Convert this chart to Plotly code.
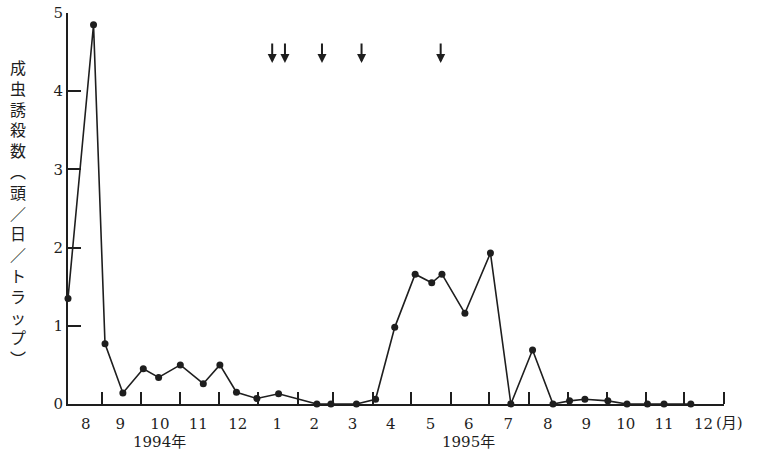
import plotly.graph_objects as go

# --- data ---
dates = ["1994-08-05", "1994-08-25", "1994-09-03", "1994-09-17", "1994-10-03",
         "1994-10-15", "1994-11-01", "1994-11-19", "1994-12-02", "1994-12-15",
         "1994-12-31", "1995-01-17", "1995-02-16", "1995-02-27", "1995-03-19",
         "1995-04-03", "1995-04-18", "1995-05-04", "1995-05-17", "1995-05-25",
         "1995-06-12", "1995-07-02", "1995-07-18", "1995-08-04", "1995-08-20",
         "1995-09-02", "1995-09-14", "1995-10-02", "1995-10-17", "1995-11-02",
         "1995-11-15", "1995-12-06"]
values = [1.35, 4.85, 0.77, 0.14, 0.45, 0.34, 0.50, 0.26, 0.50, 0.15,
          0.07, 0.13, 0.0, 0.0, 0.0, 0.06, 0.98, 1.66, 1.55, 1.66,
          1.16, 1.93, 0.0, 0.69, 0.0, 0.04, 0.06, 0.04, 0.0, 0.0,
          0.0, 0.0]

month_starts = ["1994-09-01", "1994-10-01", "1994-11-01", "1994-12-01",
                "1995-01-01", "1995-02-01", "1995-03-01", "1995-04-01",
                "1995-05-01", "1995-06-01", "1995-07-01", "1995-08-01",
                "1995-09-01", "1995-10-01", "1995-11-01", "1995-12-01",
                "1996-01-01"]
month_mids = ["1994-08-19", "1994-09-15", "1994-10-16", "1994-11-15",
              "1994-12-16", "1995-01-16", "1995-02-14", "1995-03-16",
              "1995-04-15", "1995-05-16", "1995-06-15", "1995-07-16",
              "1995-08-16", "1995-09-15", "1995-10-16", "1995-11-15",
              "1995-12-16"]
month_labels = ["8", "9", "10", "11", "12", "1", "2", "3", "4", "5", "6",
                "7", "8", "9", "10", "11", "12"]

year_positions = ["1994-10-16", "1995-06-15"]
year_labels = ["1994年", "1995年"]

arrow_dates = ["1995-01-12", "1995-01-22", "1995-02-20", "1995-03-23", "1995-05-24"]
arrow_level = 4.36

y_ticks = [0, 1, 2, 3, 4, 5]
y_title = "成虫誘殺数︵頭／日／トラップ︶"

INK = "#1e1e1e"
SERIF = "DejaVu Serif, Liberation Serif, serif"
JP = "Noto Sans CJK JP, sans-serif"

fig = go.Figure()
fig.add_trace(go.Scatter(
    x=dates, y=values, mode="lines+markers",
    line=dict(color=INK, width=1.6),
    marker=dict(color=INK, size=7),
    cliponaxis=False, showlegend=False,
))

annotations = []
for d in arrow_dates:
    annotations.append(dict(
        x=d, y=arrow_level, xref="x", yref="y", text="",
        showarrow=True, ax=0, ay=-21, arrowhead=2, arrowsize=0.9,
        arrowwidth=2, arrowcolor=INK,
    ))
for d, t in zip(year_positions, year_labels):
    annotations.append(dict(
        x=d, y=0, xref="x", yref="paper", text=t, showarrow=False,
        yshift=-38, yanchor="middle",
        font=dict(family="DejaVu Serif, Noto Sans CJK JP, serif", size=15, color=INK),
    ))
annotations.append(dict(
    x=1, y=0, xref="paper", yref="paper", text="(月)", showarrow=False,
    xanchor="left", yanchor="middle", xshift=-10, yshift=-19,
    font=dict(family="DejaVu Serif, Noto Sans CJK JP, serif", size=15, color=INK),
))
annotations.append(dict(
    x=0, y=0.5, xref="paper", yref="paper", text="<br>".join(y_title),
    showarrow=False, xanchor="center", yanchor="middle", xshift=-50, yshift=-4,
    align="center", font=dict(family=JP, size=16, color=INK),
))

fig.update_layout(
    width=758, height=460,
    margin=dict(l=68, r=34, t=13, b=56),
    paper_bgcolor="white", plot_bgcolor="white",
    annotations=annotations,
    xaxis=dict(
        type="date", range=["1994-08-05", "1996-01-01"], automargin=False,
        tickmode="array", tickvals=month_mids, ticktext=month_labels,
        ticks="", showgrid=False, zeroline=False,
        showline=True, linecolor=INK, linewidth=2,
        ticklabelstandoff=5,
        tickfont=dict(family=SERIF, size=15, color=INK),
        minor=dict(tickmode="array", tickvals=month_starts, ticks="inside",
                   ticklen=12, tickwidth=1.5, tickcolor=INK, showgrid=False),
    ),
    yaxis=dict(
        range=[0, 5], tickmode="array", tickvals=y_ticks, automargin=False,
        ticks="inside", ticklen=13, tickwidth=2, tickcolor=INK,
        showgrid=False, zeroline=False,
        showline=True, linecolor=INK, linewidth=2,
        tickfont=dict(family=SERIF, size=15, color=INK),
    ),
)

fig.write_html("out.html",
               config={"displayModeBar": False},
               post_script="document.body.style.margin='0';document.body.style.overflow='hidden';")
